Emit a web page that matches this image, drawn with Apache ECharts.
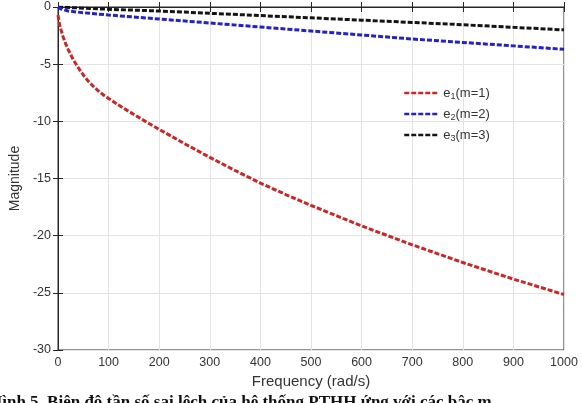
<!DOCTYPE html>
<html>
<head>
<meta charset="utf-8">
<script src="https://cdn.jsdelivr.net/npm/echarts@6/dist/echarts.min.js"></script>
<style>
html,body{margin:0;padding:0;background:#fff;}
#c{width:582px;height:403px;}
</style>
</head>
<body>
<div id="c"></div>
<script>
// ---- data ----
const redFreq = [0, 3, 6, 10, 15, 20, 30, 40, 50, 60, 70, 80, 90, 100, 125, 150, 175, 200, 250, 300, 350, 400, 450, 500, 600, 700, 800, 900, 1000];
const redMag  = [-0.7, -1.5, -2.0, -2.6, -3.2, -3.7, -4.6, -5.3, -5.95, -6.5, -6.95, -7.35, -7.7, -8.0, -8.72, -9.4, -10.06, -10.7, -11.95, -13.15, -14.3, -15.4, -16.4, -17.35, -19.15, -20.8, -22.35, -23.8, -25.15];

const blueFreq = [0, 5, 20, 50, 100, 200, 300, 400, 500, 600, 700, 800, 900, 1000];
const blueMag  = [0, -0.15, -0.35, -0.5, -0.7, -1.05, -1.4, -1.75, -2.1, -2.45, -2.8, -3.1, -3.4, -3.7];

const blackFreq = [0, 100, 200, 300, 400, 500, 600, 700, 800, 900, 1000];
const blackMag  = [0, -0.2, -0.35, -0.55, -0.75, -0.95, -1.15, -1.35, -1.55, -1.78, -2.0];

const seriesNames = ['e1', 'e2', 'e3'];
const seriesSubs = ['1', '2', '3'];
const seriesM = ['(m=1)', '(m=2)', '(m=3)'];

const xTicks = [0, 100, 200, 300, 400, 500, 600, 700, 800, 900, 1000];
const yTicks = [-30, -25, -20, -15, -10, -5, 0];

const xTitle = 'Frequency (rad/s)';
const yTitle = 'Magnitude';
const caption = 'Hình 5. Biên độ tần số sai lệch của hệ thống PTHH ứng với các bậc m';

// ---- build ----
function pairs(xs, ys) { return xs.map((x, i) => [x, ys[i]]); }
const colors = ['#cf2424', '#2222c8', '#141414'];
const datasets = [pairs(redFreq, redMag), pairs(blueFreq, blueMag), pairs(blackFreq, blackMag)];

const chart = echarts.init(document.getElementById('c'), null, {renderer: 'canvas'});
const font = '"Liberation Sans", Arial, sans-serif';
const axisCol = '#262626';

const legendMap = {};
seriesNames.forEach((n, i) => { legendMap[n] = i; });

chart.setOption({
  backgroundColor: '#ffffff',
  animation: false,
  grid: {left: 58, right: 18, top: 7, bottom: 53, show: true, borderColor: axisCol, borderWidth: 1, backgroundColor: 'transparent'},
  legend: {
    left: 398, top: 81, orient: 'vertical', itemGap: 6,
    itemWidth: 34, itemHeight: 8,
    data: seriesNames,
    itemStyle: {opacity: 0},
    lineStyle: {width: 2.5},
    formatter: function (name) {
      const i = legendMap[name];
      return '{a|e}{s|' + seriesSubs[i] + '}{a|' + seriesM[i] + '}';
    },
    textStyle: {
      rich: {
        a: {fontFamily: font, fontSize: 13, color: '#333', lineHeight: 16},
        s: {fontFamily: font, fontSize: 9, color: '#333', verticalAlign: 'bottom', padding: [6, 0, 0, 0], lineHeight: 16}
      }
    }
  },
  xAxis: [{
    type: 'value', min: xTicks[0], max: xTicks[xTicks.length - 1], interval: 100,
    name: xTitle, nameLocation: 'middle', nameGap: 24,
    nameTextStyle: {fontFamily: font, fontSize: 15, color: '#333'},
    axisLine: {show: true, lineStyle: {color: axisCol}},
    axisTick: {show: true, inside: true, length: 5, lineStyle: {color: axisCol}},
    axisLabel: {fontFamily: font, fontSize: 12.5, color: '#333', margin: 6, formatter: v => String(v)},
    splitLine: {show: true, lineStyle: {color: '#e3e3e3', width: 1}}
  }, {
    type: 'value', position: 'top', min: xTicks[0], max: xTicks[xTicks.length - 1], interval: 100,
    axisLine: {show: true, lineStyle: {color: axisCol}},
    axisTick: {show: true, inside: true, length: 5, lineStyle: {color: axisCol}},
    axisLabel: {show: false}, splitLine: {show: false}
  }],
  yAxis: [{
    type: 'value', min: yTicks[0], max: yTicks[yTicks.length - 1], interval: 5,
    name: yTitle, nameLocation: 'middle', nameGap: 27, nameRotate: 90,
    nameTextStyle: {fontFamily: font, fontSize: 14, color: '#333'},
    axisLine: {show: true, lineStyle: {color: axisCol}},
    axisTick: {show: true, inside: true, length: 5, lineStyle: {color: axisCol}},
    axisLabel: {fontFamily: font, fontSize: 12.5, color: '#333', margin: 7, formatter: v => String(v)},
    splitLine: {show: true, lineStyle: {color: '#e3e3e3', width: 1}}
  }, {
    type: 'value', position: 'right', min: yTicks[0], max: yTicks[yTicks.length - 1], interval: 5,
    axisLine: {show: true, lineStyle: {color: axisCol}},
    axisTick: {show: true, inside: true, length: 5, lineStyle: {color: axisCol}},
    axisLabel: {show: false}, splitLine: {show: false}
  }],
  series: seriesNames.map((n, i) => ({
    name: n, type: 'line', data: datasets[i],
    xAxisIndex: 0, yAxisIndex: 0,
    showSymbol: false, symbol: 'none', smooth: false,
    color: colors[i],
    lineStyle: {color: colors[i], width: 3, type: [5, 2]},
    z: 10 - i
  })),
  graphic: [{
    type: 'text', left: -11, top: 394, silent: true,
    style: {text: caption, font: 'bold 17px "Liberation Serif", "Times New Roman", serif', fill: '#111'}
  }]
});
</script>
</body>
</html>
